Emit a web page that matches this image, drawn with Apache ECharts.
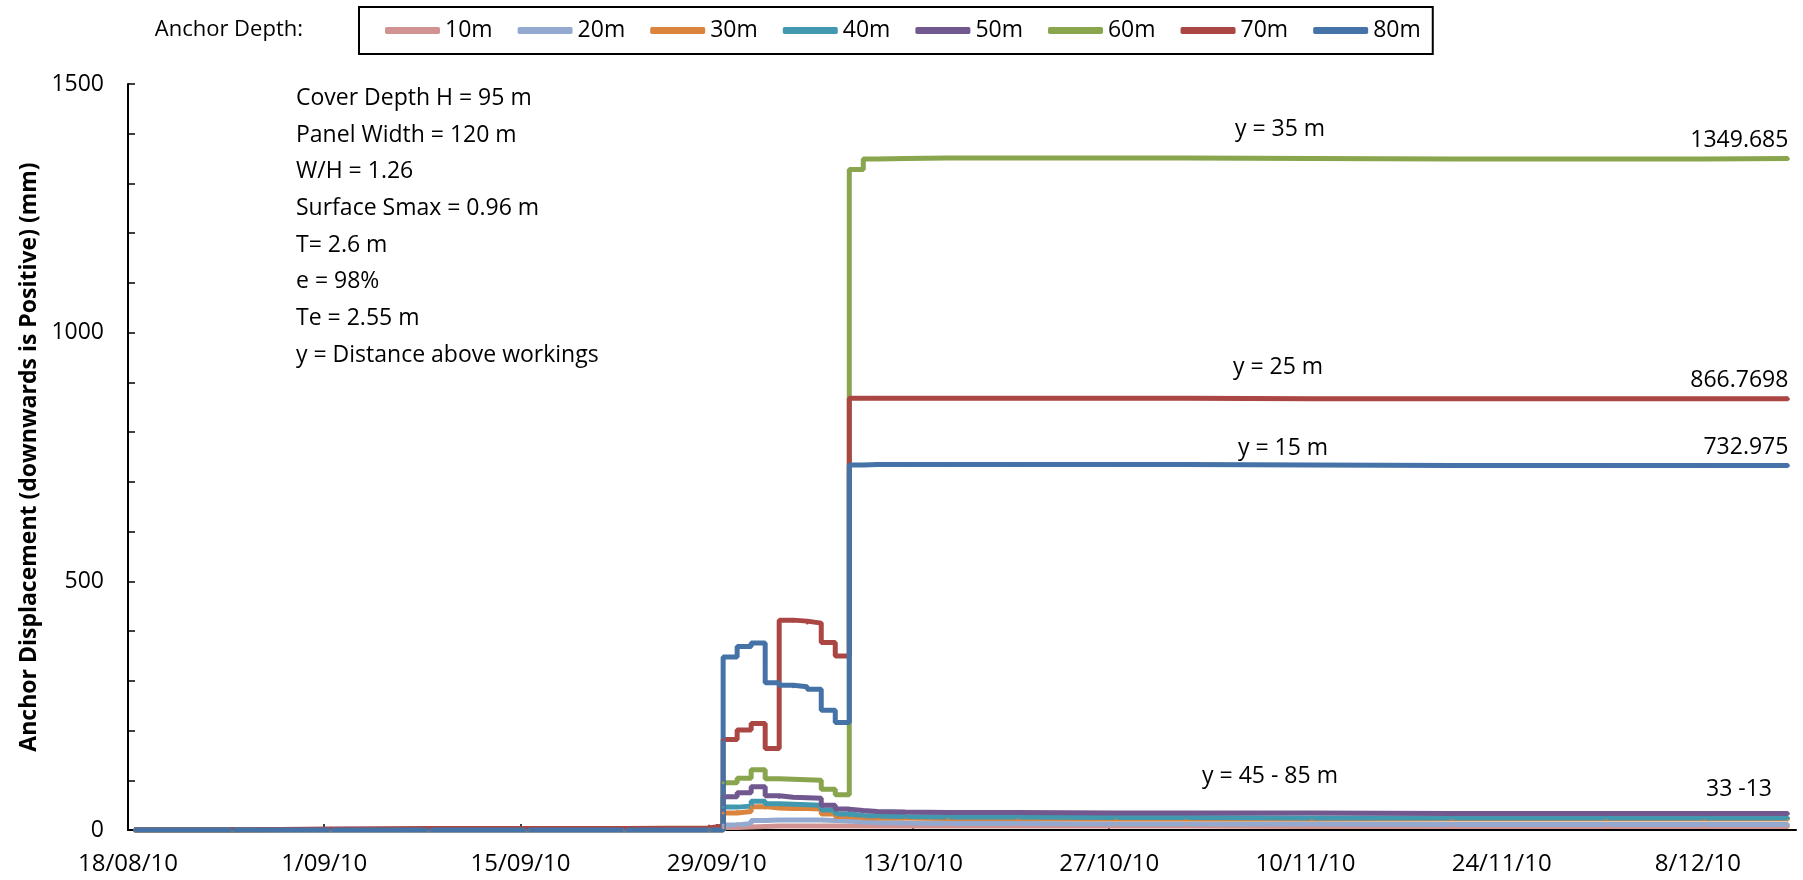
<!DOCTYPE html>
<html>
<head>
<meta charset="utf-8">
<title>Anchor Displacement</title>
<script src="https://cdn.jsdelivr.net/npm/echarts@6/dist/echarts.min.js"></script>
<style>
  html, body { margin: 0; padding: 0; background: #fff; }
  #chart { width: 1803px; height: 880px; }
</style>
</head>
<body>
<div id="chart"></div>
<script>
// reading dates (dd/mm/yy on the axis), readings taken late morning
const startDate = '2010-08-18'
const readingHour = 11
const readingDates = [
  '2010-08-18', '2010-08-25', '2010-09-01', '2010-09-08', '2010-09-15', '2010-09-22', '2010-09-28',
  '2010-09-29', '2010-09-30', '2010-10-01', '2010-10-02', '2010-10-03', '2010-10-04', '2010-10-05',
  '2010-10-06', '2010-10-07', '2010-10-08', '2010-10-09', '2010-10-10', '2010-10-12', '2010-10-15',
  '2010-10-20', '2010-10-27', '2010-11-01', '2010-11-10', '2010-11-20', '2010-12-01', '2010-12-08',
  '2010-12-14'
]

// anchor displacement (mm), one array per anchor depth
const depth10 = [0, 0, 0, 0, 0, 0, 0, 5, 6, 7, 8, 8, 8, 8, 8, 8, 8, 8, 8, 8, 8, 8, 8, 7, 7, 7, 7, 7, 7]
const depth20 = [0, 0, 0, 0, 0, 0, 0, 10, 13, 19, 20, 20, 20, 20, 19, 18, 16, 15, 14, 13, 13, 12, 12, 12, 11, 11, 11, 11, 11]
const depth30 = [0, 0, 0, 0, 0, 0, 0, 34, 37, 47, 44, 43, 43, 42, 32, 27, 25, 24, 24, 23, 23, 22, 22, 22, 22, 22, 22, 22, 22]
const depth40 = [0, 0, 0, 0, 0, 0, 0, 46, 48, 58, 53, 52, 51, 50, 40, 32, 29, 28, 27, 26, 26, 25, 25, 24, 24, 24, 24, 24, 24]
const depth50 = [0, 0, 0, 0, 0, 0, 0, 67, 75, 87, 69, 66, 65, 64, 50, 42, 39, 37, 36, 35, 35, 34, 34, 34, 33, 33, 33, 33, 33]
const depth60 = [0, 0, 0, 0, 0, 0, 0, 95, 104, 121, 103, 102, 101, 100, 82, 71, 1328, 1349, 1350, 1351, 1351, 1351, 1351, 1350, 1349, 1349, 1349, 1350, 1349.685]
const depth70 = [0, 2, 3, 3, 3, 4, 8, 182, 201, 214, 164, 422, 420, 416, 377, 350, 868, 868, 868, 868, 868, 868, 868, 867, 867, 867, 867, 867, 866.7698]
const depth80 = [0, 0, 0, 0, 0, 0, 0, 348, 369, 376, 296, 291, 288, 283, 241, 216, 734, 735, 735, 735, 735, 735, 735, 734, 733, 733, 733, 733, 732.975]

const seriesNames = ['10m', '20m', '30m', '40m', '50m', '60m', '70m', '80m']
const seriesValues = [depth10, depth20, depth30, depth40, depth50, depth60, depth70, depth80]
const seriesColors = ['#D19392', '#93A9CF', '#DB843D', '#4198AF', '#71588F', '#89A54E', '#AA4643', '#4572A7']
const labelledSeries = ['60m', '70m', '80m']

const paramsText = [
  'Cover Depth H = 95 m',
  'Panel Width = 120 m',
  'W/H = 1.26',
  'Surface Smax = 0.96 m',
  'T= 2.6 m',
  'e = 98%',
  'Te = 2.55 m',
  'y = Distance above workings'
]

const DAY = 86400000
const t0 = Date.parse(startDate + 'T00:00:00Z')
const dayOf = s => (Date.parse(s + 'T00:00:00Z') - t0) / DAY
const font = 'Open Sans'

// 14 day ticks -> d/mm/yy
function dateLabel (v) {
  if (v % 14 !== 0) return ''
  const d = new Date(t0 + v * DAY)
  const mm = String(d.getUTCMonth() + 1).padStart(2, '0')
  return d.getUTCDate() + '/' + mm + '/' + String(d.getUTCFullYear()).slice(2)
}

const chart = echarts.init(document.getElementById('chart'))

const series = seriesNames.map((name, i) => {
  const vals = seriesValues[i]
  const data = readingDates.map((s, k) => {
    const point = [dayOf(s) + readingHour / 24, vals[k]]
    if (k === vals.length - 1 && labelledSeries.includes(name)) {
      return {
        value: point,
        label: {
          show: true,
          position: 'top',
          align: 'right',
          distance: 5,
          formatter: p => String(p.value[1]),
          fontFamily: font,
          fontSize: 23,
          color: '#000'
        }
      }
    }
    return point
  })
  return {
    name: name,
    type: 'line',
    step: 'end',
    data: data,
    symbol: 'circle',
    symbolSize: 3,
    color: seriesColors[i],
    lineStyle: { width: 5, color: seriesColors[i] },
    itemStyle: { color: seriesColors[i] },
    emphasis: { disabled: true },
    animation: false
  }
})

const option = {
  backgroundColor: '#fff',
  grid: { left: 128, right: 7, top: 84, bottom: 50, outerBoundsMode: 'none' },
  legend: {
    data: seriesNames,
    left: 359,
    top: 7,
    padding: [10, 12, 10, 26],
    itemGap: 25,
    itemWidth: 55,
    itemHeight: 7,
    icon: 'roundRect',
    borderColor: '#000',
    borderWidth: 2,
    textStyle: { fontFamily: font, fontSize: 23, color: '#000', lineHeight: 27 }
  },
  xAxis: {
    type: 'value',
    min: 0,
    max: 119,
    interval: 14,
    splitLine: { show: false },
    axisLine: { lineStyle: { color: '#000', width: 2 } },
    axisTick: { inside: true, length: 6, lineStyle: { color: '#000', width: 1.5 } },
    axisLabel: { formatter: dateLabel, fontFamily: font, fontSize: 24, color: '#000', margin: 22, showMaxLabel: false }
  },
  yAxis: {
    type: 'value',
    min: 0,
    max: 1500,
    interval: 500,
    name: 'Anchor Displacement (downwards is Positive) (mm)',
    nameLocation: 'middle',
    nameGap: 82,
    nameTextStyle: { fontFamily: font, fontSize: 23, fontWeight: 'bold', color: '#000' },
    splitLine: { show: false },
    axisLine: { show: true, lineStyle: { color: '#000', width: 2 } },
    axisTick: { show: true, inside: true, length: 7, lineStyle: { color: '#000', width: 1.5 } },
    minorTick: { show: true, splitNumber: 5, length: 7, lineStyle: { color: '#000', width: 1.5 } },
    axisLabel: { formatter: v => String(v), fontFamily: font, fontSize: 23, color: '#000', margin: 24 }
  },
  graphic: [
    {
      type: 'text', x: 303, y: 30,
      style: { text: 'Anchor Depth:', font: '22px "Open Sans"', fill: '#000', textAlign: 'right', textVerticalAlign: 'middle' }
    },
    {
      type: 'text', x: 296, y: 80,
      style: { text: paramsText.join('\n'), font: '23px "Open Sans"', lineHeight: 36.7, fill: '#000', textAlign: 'left', textVerticalAlign: 'top' }
    },
    {
      type: 'text', x: 1280, y: 129,
      style: { text: 'y = 35 m', font: '23px "Open Sans"', fill: '#000', textAlign: 'center', textVerticalAlign: 'middle' }
    },
    {
      type: 'text', x: 1278, y: 367,
      style: { text: 'y = 25 m', font: '23px "Open Sans"', fill: '#000', textAlign: 'center', textVerticalAlign: 'middle' }
    },
    {
      type: 'text', x: 1283, y: 448,
      style: { text: 'y = 15 m', font: '23px "Open Sans"', fill: '#000', textAlign: 'center', textVerticalAlign: 'middle' }
    },
    {
      type: 'text', x: 1270, y: 776,
      style: { text: 'y = 45 - 85 m', font: '23px "Open Sans"', fill: '#000', textAlign: 'center', textVerticalAlign: 'middle' }
    },
    {
      type: 'text', x: 1739, y: 789,
      style: { text: '33 -13', font: '23px "Open Sans"', fill: '#000', textAlign: 'center', textVerticalAlign: 'middle' }
    }
  ],
  series: series
}

chart.setOption(option)
</script>
</body>
</html>
